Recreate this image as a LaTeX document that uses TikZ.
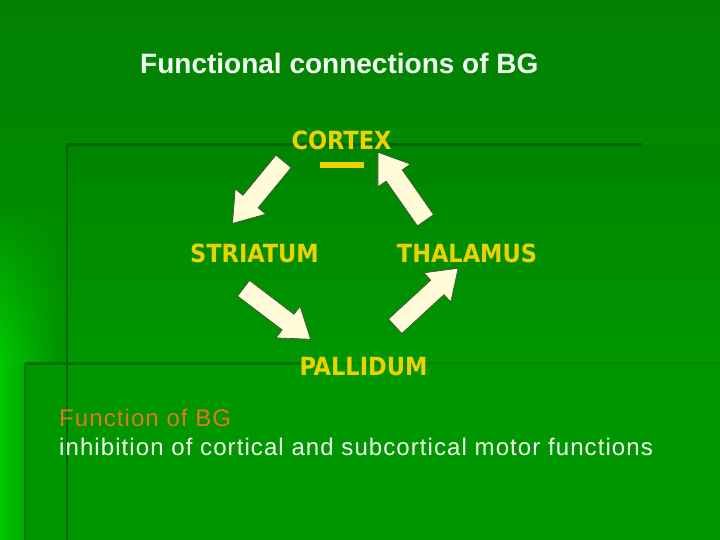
\documentclass[tikz,border=0pt]{standalone}
\usepackage{fontspec}
\setmainfont{Liberation Sans}
\newfontfamily\lblfont{DejaVu Sans Condensed}
\usetikzlibrary{shapes.arrows,calc,fadings}
\definecolor{bgtop}{RGB}{2,128,2}
\definecolor{bgmid}{RGB}{0,140,0}
\definecolor{bgbot}{RGB}{0,155,0}
\definecolor{panelA}{RGB}{0,132,0}
\definecolor{panelB}{RGB}{0,150,0}
\definecolor{glow}{RGB}{0,200,0}
\definecolor{darkline}{RGB}{0,100,0}
\definecolor{ylw}{RGB}{235,210,0}
\definecolor{cream}{RGB}{255,252,215}
\definecolor{orng}{RGB}{225,120,30}
\definecolor{offwhite}{RGB}{240,255,240}
\tikzset{
  lbl/.style={font=\lblfont\fontsize{25}{29}\selectfont\bfseries, text=ylw, inner sep=0pt, anchor=base},
  fatarrow/.style={single arrow, draw=black!75, line width=0.6pt, fill=cream,
    single arrow head extend=10pt, single arrow tip angle=70,
    inner xsep=0pt, inner ysep=9.5pt, anchor=center},
  panelline/.style={draw=darkline, line width=3pt}
}
\newcommand{\bgarrow}[3]{\path let \p1=($(#3)-(#2)$), \n1={atan2(\y1,\x1)}, \n2={veclen(\x1,\y1)} in node[fatarrow, minimum height=\n2, rotate=\n1] (#1) at ($(#2)!0.5!(#3)$) {};}
\begin{document}
\begin{tikzpicture}[x=1pt,y=-1pt]
\useasboundingbox (0,0) rectangle (720,540);
% background
\shade[top color=bgtop, bottom color=bgbot] (0,0) rectangle (720,540);
\shade[left color=glow, right color=bgmid, path fading=north] (0,200) rectangle (67,363);
\fill[panelA] (67,145) rectangle (720,540);
\shade[top color=panelA, bottom color=panelB] (67,145) rectangle (720,362);
\fill[panelB] (25,363) rectangle (720,540);
\shade[left color=glow, right color=glow!40!panelB] (0,363) rectangle (25,540);
\draw[panelline] (67,145) -- (642,145);
\draw[panelline, line width=2.5pt] (67,145) -- (67,540);
\draw[panelline, draw opacity=0.7] (25,363) -- (300,363);
\draw[panelline, draw opacity=0.25] (300,363) -- (720,363);
\draw[panelline, line width=2.5pt, draw opacity=0.6] (25,363) -- (25,540);
% title
\node[anchor=base west, font=\fontsize{28}{32}\selectfont\bfseries, text=offwhite, inner sep=0pt] (title) at (140,73.3) {Functional connections of BG};
% labels
\node[lbl] (cortex) at (341.5,150) {CORTEX};
\fill[ylw] (320,162) rectangle (364,168);
\node[lbl] (striatum) at (254.5,262) {STRIATUM};
\node[lbl] (thalamus) at (467,262) {THALAMUS};
\node[lbl] (pallidum) at (363.5,375) {PALLIDUM};
% arrows
\coordinate (a1t) at (288,156); \coordinate (a1h) at (237,218);
\coordinate (a2t) at (429.5,226); \coordinate (a2h) at (382,158);
\coordinate (a3t) at (238,284); \coordinate (a3h) at (305,335);
\coordinate (a4t) at (390,331); \coordinate (a4h) at (453,273);
\bgarrow{arr1}{a1t}{a1h}
\bgarrow{arr2}{a2t}{a2h}
\bgarrow{arr3}{a3t}{a3h}
\bgarrow{arr4}{a4t}{a4h}
% bottom text
\node[anchor=base west, font=\fontsize{24}{28}\selectfont\addfontfeature{LetterSpace=4.5}, text=orng, inner sep=0pt] (fbg) at (59,426) {Function of BG};
\node[anchor=base west, font=\fontsize{24}{28}\selectfont\addfontfeature{LetterSpace=4.5}, text=offwhite, inner sep=0pt] (inh) at (59,455) {inhibition of cortical and subcortical motor functions};
\end{tikzpicture}
\end{document}
